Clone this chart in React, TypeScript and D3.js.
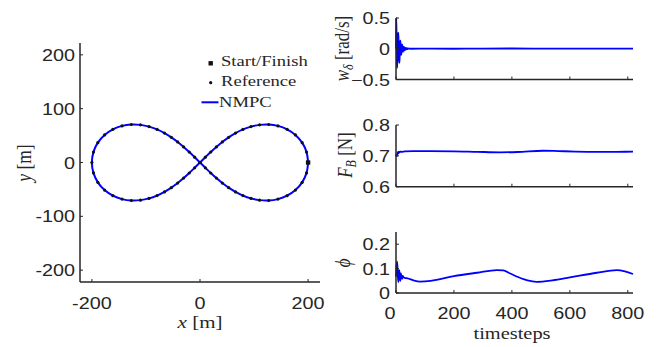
import React from "react";
import * as d3 from "d3";

// reference trajectory points (lemniscate)
const refX = [
  200, 197.1, 189.0, 176.5, 161.2, 144.3, 127.1, 110.2, 94.3, 79.4, 65.7, 53.0, 41.3, 30.3, 19.9, 9.9,
  0, -9.9, -19.9, -30.3, -41.3, -53.0, -65.7, -79.4, -94.3, -110.2, -127.1, -144.3, -161.2, -176.5, -189.0, -197.1,
  -200, -197.1, -189.0, -176.5, -161.2, -144.3, -127.1, -110.2, -94.3, -79.4, -65.7, -53.0, -41.3, -30.3, -19.9, -9.9,
  0, 9.9, 19.9, 30.3, 41.3, 53.0, 65.7, 79.4, 94.3, 110.2, 127.1, 144.3, 161.2, 176.5, 189.0, 197.1, 200,
];
const refY = [
  0, 19.3, 36.9, 51.2, 61.7, 68.0, 70.6, 69.9, 66.7, 61.4, 54.6, 46.8, 38.2, 29.0, 19.5, 9.8,
  0, -9.8, -19.5, -29.0, -38.2, -46.8, -54.6, -61.4, -66.7, -69.9, -70.6, -68.0, -61.7, -51.2, -36.9, -19.3,
  0, 19.3, 36.9, 51.2, 61.7, 68.0, 70.6, 69.9, 66.7, 61.4, 54.6, 46.8, 38.2, 29.0, 19.5, 9.8,
  0, -9.8, -19.5, -29.0, -38.2, -46.8, -54.6, -61.4, -66.7, -69.9, -70.6, -68.0, -61.7, -51.2, -36.9, -19.3, 0,
];

// time series
const wT = [0, 1, 2, 3, 4, 5, 6, 7, 8, 9, 10, 11, 12, 13, 14, 15, 16, 17, 18, 19, 20, 21, 22, 23, 24, 25, 26, 27, 28, 29, 30, 32, 34, 36, 38, 40, 44, 50, 100, 200, 300, 400, 500, 600, 700, 818];
const wV = [0, 0.5, 0.2, -0.2, -0.31, -0.1, 0.1, 0.22, 0.26, 0.1, -0.1, -0.2, -0.23, -0.05, 0.08, 0.13, 0.07, -0.05, -0.1, -0.06, 0.03, 0.07, 0.04, -0.02, -0.05, -0.03, 0.02, 0.035, 0.015, -0.015, -0.025, 0, 0.015, -0.01, 0.008, -0.005, 0.004, 0, 0.002, 0, 0.003, 0.004, 0.003, 0.002, 0.003, 0.002];

const fT = [0, 2, 4, 6, 8, 10, 12, 15, 20, 30, 60, 120, 200, 280, 360, 420, 508, 560, 620, 700, 760, 818];
const fV = [0.705, 0.699, 0.703, 0.712, 0.708, 0.714, 0.711, 0.714, 0.713, 0.7145, 0.715, 0.7152, 0.7148, 0.713, 0.7115, 0.7125, 0.7165, 0.7155, 0.714, 0.7132, 0.7132, 0.7135];

const pT = [0, 2, 4, 6, 8, 10, 11, 13, 15, 17, 19, 21, 23, 25, 30, 40, 60, 84, 120, 200, 280, 348, 370, 394, 440, 486, 540, 600, 693, 762, 790, 818];
const pV = [0.067, 0.11, 0.128, 0.08, 0.045, 0.07, 0.094, 0.075, 0.05, 0.08, 0.065, 0.058, 0.07, 0.066, 0.062, 0.06, 0.052, 0.047, 0.05, 0.069, 0.083, 0.094, 0.093, 0.08, 0.057, 0.046, 0.052, 0.064, 0.083, 0.094, 0.089, 0.078];

const xyTicks = [-200, 0, 200];
const yyTicks = [-200, -100, 0, 100, 200];
const tTicks = [0, 200, 400, 600, 800];

const AX = "#262626";
const BLUE = "#0000ff";
const SANS = "Liberation Sans, Arial, sans-serif";
const SERIF = "Liberation Serif, Times New Roman, serif";
const SX = 1.2;
const TICK = 16.5;

const T = ({ x, y, anchor = "middle", size = TICK, family = SANS, rot = false, children }: any) => (
  <text
    transform={`translate(${x},${y})${rot ? ` rotate(-90) scale(1,${SX})` : ` scale(${SX},1)`}`}
    textAnchor={anchor}
    fontSize={size}
    fontFamily={family}
    fill={AX}
  >
    {children}
  </text>
);

const TimePlot = ({ ts, vs, domain, ticks, top, bottom, showX, label, fmt }: any) => {
  const x = d3.scaleLinear().domain([0, 818]).range([396, 633]);
  const y = d3.scaleLinear().domain(domain).range([bottom, top]);
  const line = d3
    .line<number>()
    .x((d, i) => x(ts[i]))
    .y((d) => y(d))
    .curve(d3.curveMonotoneX);
  return (
    <g>
      <path d={line(vs) || ""} fill="none" stroke={BLUE} strokeWidth={1.8} />
      <line x1={x(0)} x2={x(0)} y1={top} y2={bottom} stroke={AX} strokeWidth={1.5} />
      <line x1={x(0)} x2={x(818)} y1={bottom} y2={bottom} stroke={AX} strokeWidth={1.5} />
      {ticks.map((t: number) => (
        <g key={t}>
          <line x1={x(0)} x2={x(0) + 3} y1={y(t)} y2={y(t)} stroke={AX} strokeWidth={1} />
          <T x={390} y={y(t) + 6} anchor="end">{fmt(t)}</T>
        </g>
      ))}
      {tTicks.map((t) => (
        <g key={t}>
          <line x1={x(t)} x2={x(t)} y1={bottom} y2={bottom - 3} stroke={AX} strokeWidth={1} />
          {showX && <T x={t === 0 ? x(t) - 6 : x(t)} y={319}>{t}</T>}
        </g>
      ))}
      {label}
    </g>
  );
};

export default function App() {
  const x = d3.scaleLinear().domain([-222, 222]).range([80, 320]);
  const y = d3.scaleLinear().domain([-222, 222]).range([282, 43]);
  const traj = d3
    .line<number>()
    .x((d) => x(d))
    .y((d, i) => y(refY[i]))
    .curve(d3.curveCatmullRom);
  const fmt1 = (v: number) => (v === 0 ? "0" : d3.format(".1f")(v));

  return (
    <div style={{ position: "absolute", left: 0, top: 0 }}>
      <svg width={656} height={347} style={{ display: "block", background: "#fff" }}>
        {/* trajectory */}
        <path d={traj(refX) || ""} fill="none" stroke={BLUE} strokeWidth={2} />
        {refX.map((d, i) => (
          <circle key={i} cx={x(d)} cy={y(refY[i])} r={1.6} fill="#111" />
        ))}
        <rect x={x(200) - 2.2} y={y(0) - 2.2} width={4.4} height={4.4} fill="#111" />
        <line x1={80} x2={80} y1={43} y2={282} stroke={AX} strokeWidth={1.5} />
        <line x1={80} x2={320} y1={282} y2={282} stroke={AX} strokeWidth={1.5} />
        {yyTicks.map((t) => (
          <g key={t}>
            <line x1={80} x2={83} y1={y(t)} y2={y(t)} stroke={AX} strokeWidth={1} />
            <T x={75} y={y(t) + 6} anchor="end">{t}</T>
          </g>
        ))}
        {xyTicks.map((t) => (
          <g key={t}>
            <line x1={x(t)} x2={x(t)} y1={282} y2={279} stroke={AX} strokeWidth={1} />
            <T x={x(t)} y={308.5}>{t}</T>
          </g>
        ))}
        <T x={200} y={328} size={17.5} family={SERIF}>
          <tspan fontStyle="italic">x</tspan> [m]
        </T>
        <T x={31} y={163} size={17.5} family={SERIF} rot>
          <tspan fontStyle="italic">y</tspan> [m]
        </T>

        {/* legend */}
        <rect x={208.5} y={61.1} width={4.4} height={4.4} fill="#111" />
        <T x={221} y={65.5} anchor="start" size={15.5} family={SERIF}>Start/Finish</T>
        <circle cx={210.7} cy={82.7} r={1.6} fill="#111" />
        <T x={221} y={86} anchor="start" size={15.5} family={SERIF}>Reference</T>
        <line x1={201.5} x2={218.5} y1={102.3} y2={102.3} stroke={BLUE} strokeWidth={2} />
        <T x={219} y={106.5} anchor="start" size={15.5} family={SERIF}>NMPC</T>

        <TimePlot
          ts={wT} vs={wV} domain={[-0.5, 0.5]} ticks={[-0.5, 0, 0.5]} top={18} bottom={79.5}
          fmt={fmt1}
          label={
            <T x={349} y={48.5} size={17} family={SERIF} rot>
              <tspan fontStyle="italic">w</tspan>
              <tspan fontStyle="italic" fontSize={12} dy={3.5}>δ</tspan>
              <tspan dy={-3.5}> [rad/s]</tspan>
            </T>
          }
        />
        <TimePlot
          ts={fT} vs={fV} domain={[0.6, 0.8]} ticks={[0.6, 0.7, 0.8]} top={125} bottom={186.7}
          fmt={fmt1}
          label={
            <T x={352} y={155} size={17} family={SERIF} rot>
              <tspan fontStyle="italic">F</tspan>
              <tspan fontStyle="italic" fontSize={12} dy={3.5}>B</tspan>
              <tspan dy={-3.5}> [N]</tspan>
            </T>
          }
        />
        <TimePlot
          ts={pT} vs={pV} domain={[0, 0.25]} ticks={[0, 0.1, 0.2]} top={232} bottom={293}
          showX fmt={fmt1}
          label={
            <T x={350} y={263} size={17.5} family={SERIF} rot>
              <tspan fontStyle="italic">ϕ</tspan>
            </T>
          }
        />
        <T x={512} y={339} size={17} family={SERIF}>timesteps</T>
      </svg>
    </div>
  );
}
